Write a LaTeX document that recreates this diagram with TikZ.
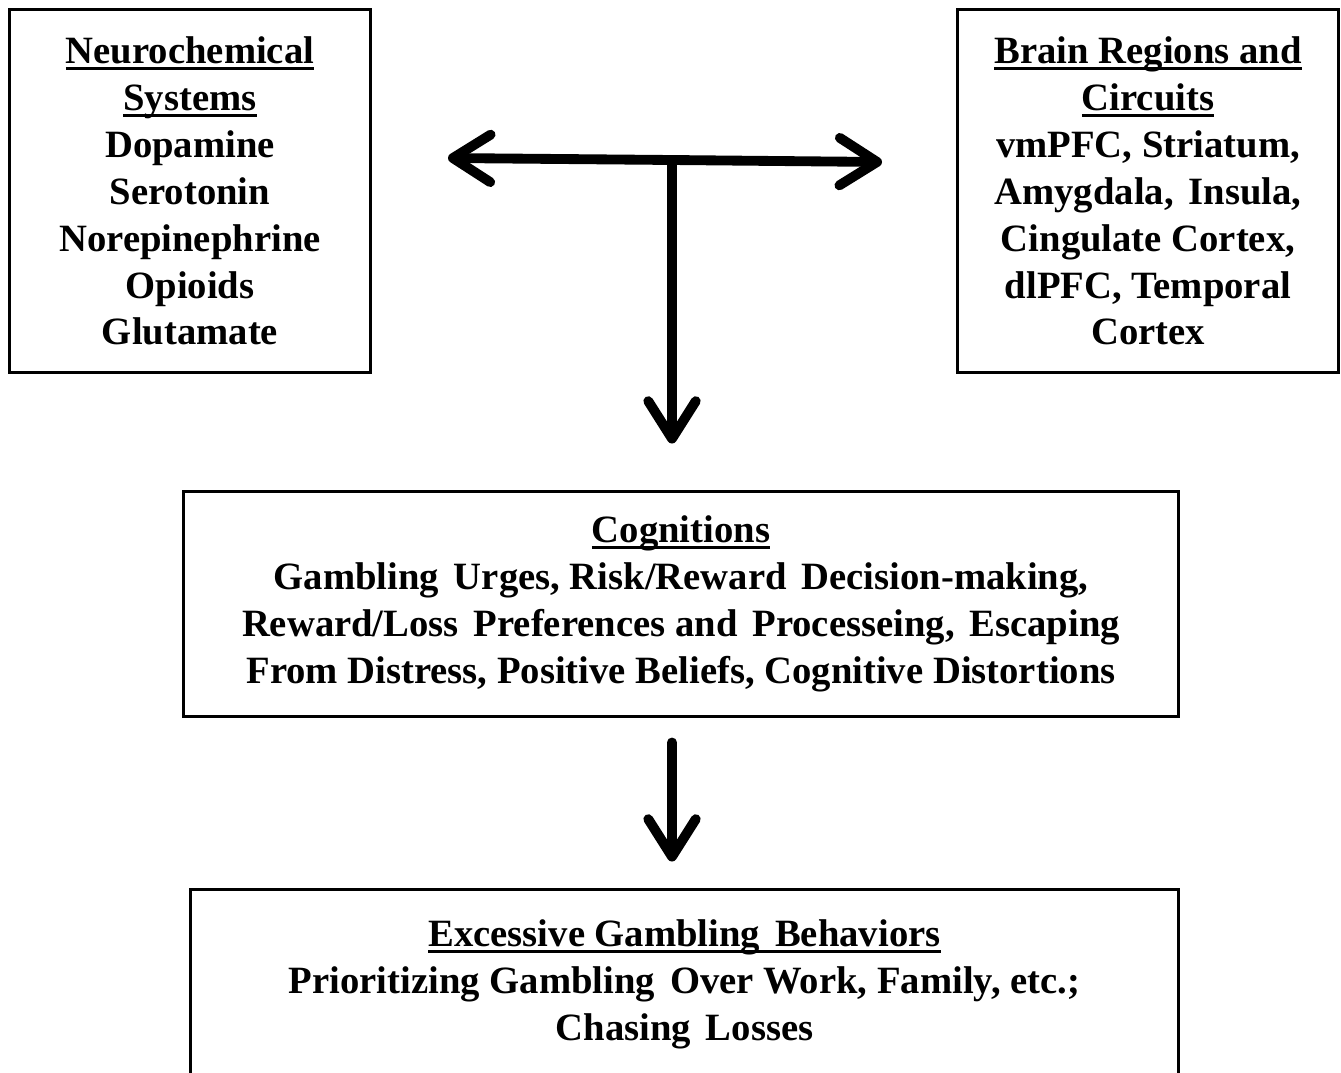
\documentclass[tikz,border=0pt]{standalone}
\usepackage{fontspec}
\setmainfont{Liberation Serif}
\usetikzlibrary{arrows.meta}
\newcommand\hdline[1]{\setbox0\hbox{#1}\rlap{\rule[-3.6pt]{\wd0}{1.6pt}}\box0}
\newcommand\gap{\ \hspace{3pt}}

\begin{document}
\begin{tikzpicture}[
  x=0.02cm, y=-0.02cm,
  box/.style={
    draw, line width=1.7pt, align=center, inner sep=0pt,
    font=\fontsize{22}{26.7}\selectfont\bfseries
  },
  flow/.style={
    line width=5.6pt, line cap=round,
    -{Straight Barb[round, length=0.75cm, width=0.95cm]}
  }
]
  \useasboundingbox (0,0) rectangle (1341,1072);
  \node[box, minimum width=7.24cm, minimum height=7.28cm] (neuro) at (190,191)
    {\hdline{Neurochemical}\\ \hdline{Systems}\\ Dopamine\\ Serotonin\\
     Norepinephrine\\ Opioids\\ Glutamate};
  \node[box, minimum width=7.64cm, minimum height=7.28cm] (brain) at (1148,191)
    {\hdline{Brain Regions and}\\ \hdline{Circuits}\\ vmPFC, Striatum,\\
     Amygdala,\gap Insula,\\ Cingulate Cortex,\\ dlPFC, Temporal\\ Cortex};
  \node[box, minimum width=19.92cm, minimum height=4.52cm] (cogn) at (681,604)
    {\hdline{Cognitions}\\ Gambling\gap Urges, Risk/Reward\gap Decision-making,\\
     Reward/Loss\gap Preferences and\gap Processeing,\gap Escaping\\
     From Distress, Positive Beliefs, Cognitive Distortions};
  \node[box, minimum width=19.78cm, minimum height=3.8cm] (behav) at (684.5,984)
    {\hdline{Excessive Gambling\gap Behaviors}\\
     Prioritizing Gambling\gap Over Work, Family, etc.;\\ Chasing\gap Losses};
  \coordinate (jn) at (672,160);
  \coordinate (lt) at (448,158);
  \coordinate (rt) at (882,162);
  \draw[flow] (jn) -- (lt);
  \draw[flow] (jn) -- (rt);
  \draw[flow, shorten >=0.92cm] (jn) -- (cogn.north -| jn);
  \draw[flow, shorten <=0.48cm, shorten >=0.52cm] (cogn.south -| jn) -- (behav.north -| jn);
\end{tikzpicture}
\end{document}
